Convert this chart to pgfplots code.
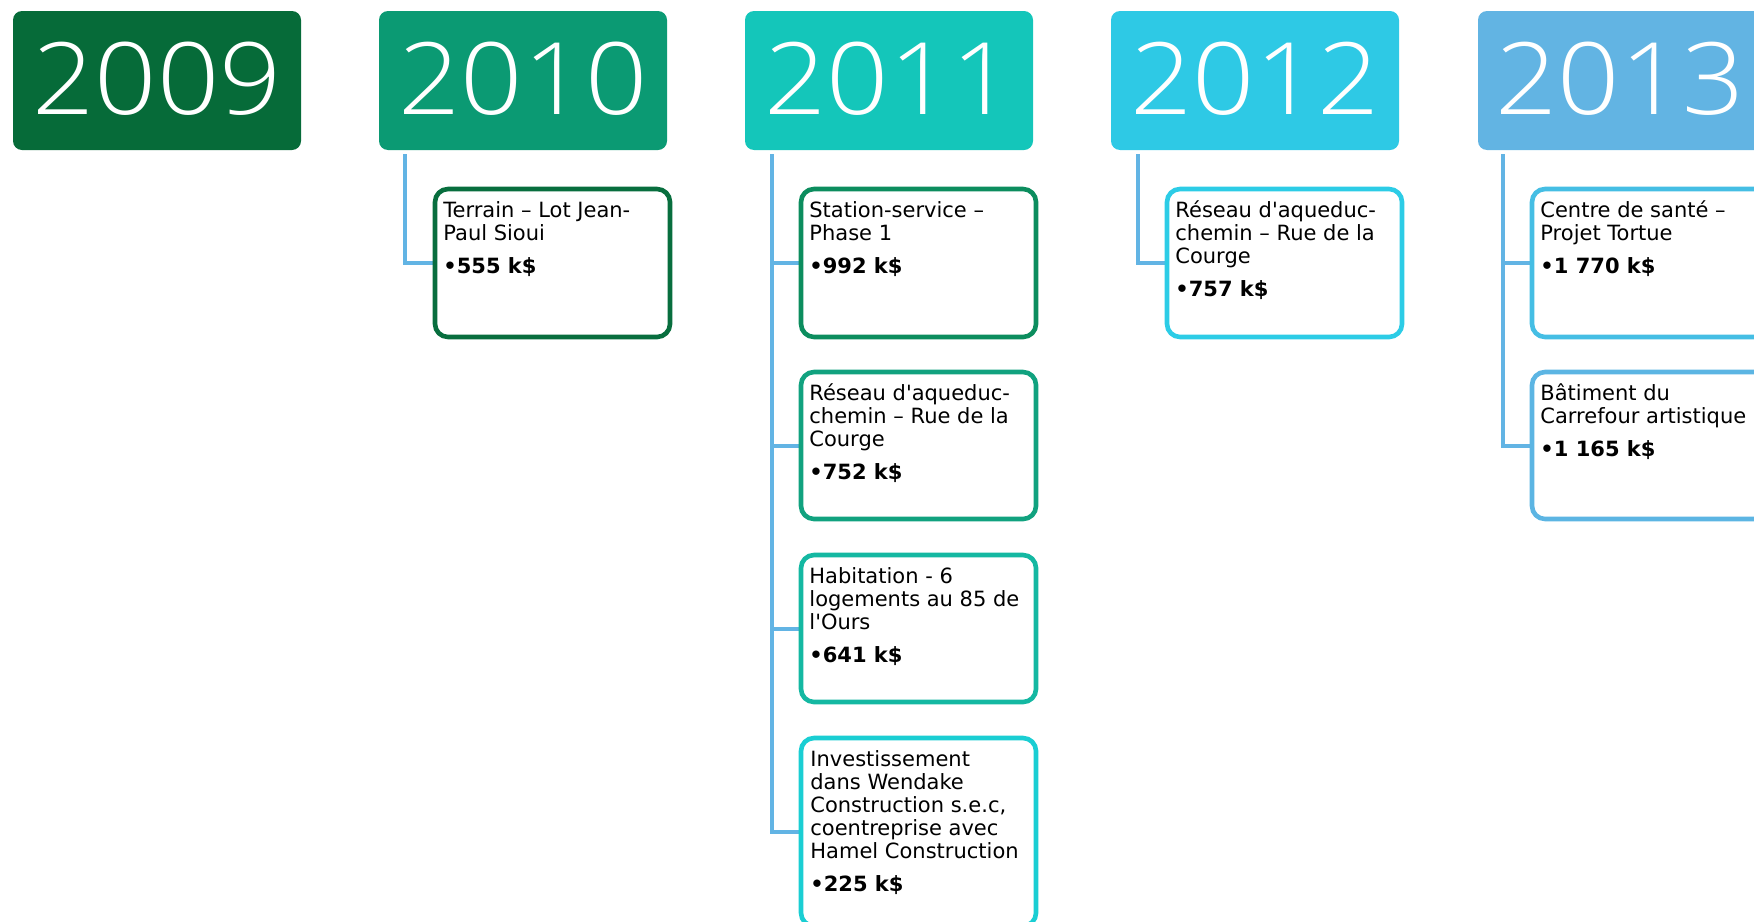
\documentclass[border=0pt]{standalone}
\usepackage{fontspec}
\setmainfont{DejaVu Sans}
\newfontfamily\yrfont{Open Sans}[UprightFont=* Light]
\usepackage{pgfplots}
\pgfplotsset{compat=1.18}
\definecolor{y09}{HTML}{066B39}
\definecolor{y10}{HTML}{0B9A73}
\definecolor{y11}{HTML}{14C6BA}
\definecolor{y12}{HTML}{2EC9E5}
\definecolor{y13}{HTML}{62B4E3}
\definecolor{b10}{HTML}{086E3E}
\definecolor{b11a}{HTML}{0C8D5E}
\definecolor{b11b}{HTML}{11A27F}
\definecolor{b11c}{HTML}{14B8A2}
\definecolor{b11d}{HTML}{1ACED3}
\definecolor{b12}{HTML}{2CCCE6}
\definecolor{b13a}{HTML}{45BEE4}
\definecolor{b13b}{HTML}{5CB5E3}
\definecolor{conn}{HTML}{62B4E4}
\newcommand{\yr}{\yrfont\fontsize{50}{50}\selectfont}
\newcommand{\itm}[2]{\parbox[t]{125pt}{\fontsize{10.5}{11.5}\selectfont\raggedright #1\\[5pt]\textbf{•#2 k\$}}}
\newcommand{\q}{\textquotesingle}
\begin{document}
\begin{tikzpicture}
\begin{axis}[
  scale only axis, width=877pt, height=460.5pt,
  xmin=0, xmax=1754, ymin=0, ymax=921, y dir=reverse,
  hide axis, clip=true, clip mode=global,
]
% year boxes
\fill[y09, rounded corners=4.5pt] (axis cs:13,11) rectangle (axis cs:301,150);
\fill[y10, rounded corners=4.5pt] (axis cs:379,11) rectangle (axis cs:667,150);
\fill[y11, rounded corners=4.5pt] (axis cs:745,11) rectangle (axis cs:1033,150);
\fill[y12, rounded corners=4.5pt] (axis cs:1111,11) rectangle (axis cs:1399,150);
\fill[y13, rounded corners=4.5pt] (axis cs:1478,11) rectangle (axis cs:1790,150);
\node[anchor=base, text=white, inner sep=0pt, xscale=1.09] at (axis cs:157,114) {\yr 2009};
\node[anchor=base, text=white, inner sep=0pt, xscale=1.09] at (axis cs:523,114) {\yr 2010};
\node[anchor=base, text=white, inner sep=0pt, xscale=1.09] at (axis cs:889,114) {\yr 2011};
\node[anchor=base, text=white, inner sep=0pt, xscale=1.09] at (axis cs:1255,114) {\yr 2012};
\node[anchor=base, text=white, inner sep=0pt, xscale=1.09] at (axis cs:1620,114) {\yr 2013};
% connectors
\addplot[conn, line width=2.3pt, no marks] coordinates {(405,154) (405,263) (435,263)};
\addplot[conn, line width=2.3pt, no marks] coordinates {(772,154) (772,832) (801,832)};
\addplot[conn, line width=2.3pt, no marks] coordinates {(772,263) (801,263)};
\addplot[conn, line width=2.3pt, no marks] coordinates {(772,446) (801,446)};
\addplot[conn, line width=2.3pt, no marks] coordinates {(772,629) (801,629)};
\addplot[conn, line width=2.3pt, no marks] coordinates {(1138,154) (1138,263) (1167,263)};
\addplot[conn, line width=2.3pt, no marks] coordinates {(1503,154) (1503,446) (1532,446)};
\addplot[conn, line width=2.3pt, no marks] coordinates {(1503,263) (1532,263)};
% item boxes
\draw[b10, line width=2.3pt, fill=white, rounded corners=6.5pt] (axis cs:435,189) rectangle (axis cs:670,337);
\draw[b11a, line width=2.3pt, fill=white, rounded corners=6.5pt] (axis cs:801,189) rectangle (axis cs:1036,337);
\draw[b11b, line width=2.3pt, fill=white, rounded corners=6.5pt] (axis cs:801,372) rectangle (axis cs:1036,519);
\draw[b11c, line width=2.3pt, fill=white, rounded corners=6.5pt] (axis cs:801,555) rectangle (axis cs:1036,702);
\draw[b11d, line width=2.3pt, fill=white, rounded corners=6.5pt] (axis cs:801,738) rectangle (axis cs:1036,926);
\draw[b12, line width=2.3pt, fill=white, rounded corners=6.5pt] (axis cs:1167,189) rectangle (axis cs:1402,337);
\draw[b13a, line width=2.3pt, fill=white, rounded corners=6.5pt] (axis cs:1532,189) rectangle (axis cs:1767,337);
\draw[b13b, line width=2.3pt, fill=white, rounded corners=6.5pt] (axis cs:1532,372) rectangle (axis cs:1767,519);
% item texts
\node[anchor=base west, inner sep=0pt] at (axis cs:443,217) {\itm{Terrain – Lot Jean-\\Paul Sioui}{555}};
\node[anchor=base west, inner sep=0pt] at (axis cs:809,217) {\itm{Station-service –\\Phase 1}{992}};
\node[anchor=base west, inner sep=0pt] at (axis cs:809,400) {\itm{Réseau d\q aqueduc-\\chemin – Rue de la\\Courge}{752}};
\node[anchor=base west, inner sep=0pt] at (axis cs:809,583) {\itm{Habitation - 6\\logements au 85 de\\l\q Ours}{641}};
\node[anchor=base west, inner sep=0pt] at (axis cs:810,766) {\itm{Investissement\\dans Wendake\\Construction s.e.c,\\coentreprise avec\\Hamel Construction}{225}};
\node[anchor=base west, inner sep=0pt] at (axis cs:1175,217) {\itm{Réseau d\q aqueduc-\\chemin – Rue de la\\Courge}{757}};
\node[anchor=base west, inner sep=0pt] at (axis cs:1540,217) {\itm{Centre de santé –\\Projet Tortue}{1 770}};
\node[anchor=base west, inner sep=0pt] at (axis cs:1540,400) {\itm{Bâtiment du\\Carrefour artistique}{1 165}};
\end{axis}
\pgfresetboundingbox
\useasboundingbox (current axis.south west) rectangle (current axis.north east);
\end{tikzpicture}
\end{document}
